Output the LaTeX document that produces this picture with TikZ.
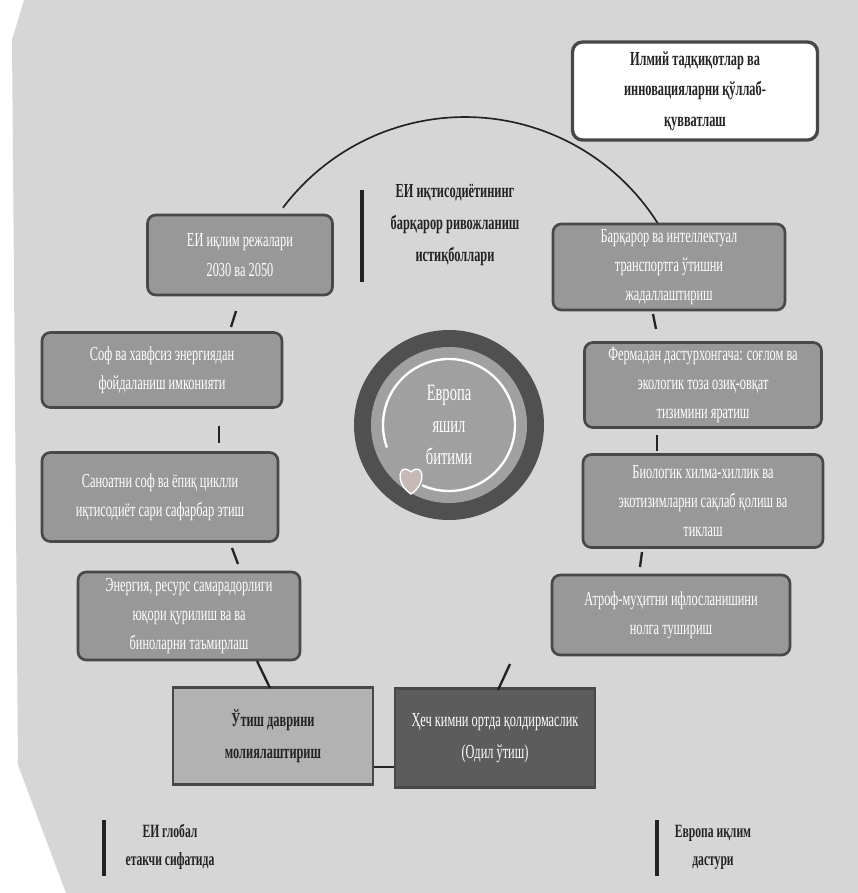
\documentclass[tikz,border=0pt]{standalone}
\usepackage{fontspec}
\setmainfont{Liberation Serif}[FakeStretch=0.62]
\usepackage{tikz}
\usetikzlibrary{positioning,calc}
\definecolor{pagegray}{RGB}{214,214,214}
\definecolor{boxgray}{RGB}{152,152,152}
\definecolor{edgegray}{RGB}{72,72,72}
\definecolor{lightbox}{RGB}{178,178,178}
\definecolor{darkbox}{RGB}{92,92,92}
\definecolor{ringdark}{RGB}{80,80,80}
\definecolor{diskgray}{RGB}{160,160,160}
\definecolor{textdark}{RGB}{35,35,35}
\definecolor{leafgray}{RGB}{200,185,185}

\begin{document}
\begin{tikzpicture}[x=0.3mm, y=-0.3mm, font=\fontsize{17}{25}\selectfont,
    goal/.style={draw=edgegray, line width=0.8mm, fill=boxgray, rounded corners=2.5mm, text=white, align=center},
    tilebox/.style={draw=edgegray, line width=0.8mm, align=center},
    wh/.style 2 args={minimum width=#1*0.3mm, minimum height=#2*0.3mm},
    tick/.style={line width=0.7mm, draw=textdark},
    caption/.style={font=\fontsize{16}{24}\selectfont\bfseries, text=textdark, align=center}]
        \useasboundingbox (0,0) rectangle (858,893);
        \fill[white] (0,0) rectangle (858,893);
        \fill[pagegray] (24,0) -- (858,0) -- (858,893) -- (66,893) -- (18,765) -- (12,40) -- cycle;

        % Arc over the top
        \draw[tick, line width=0.5mm] plot[domain=32:143, samples=60] ({465+228*cos(\x)}, {345-228*sin(\x)});

        % Title
        \coordinate (bar1a) at (362,190);
        \coordinate (bar1b) at (362,282);
        \draw[line width=1mm, draw=textdark] (bar1a) -- (bar1b);
        \node[caption, font=\fontsize{17}{27}\selectfont\bfseries] (title) at (455,225) {ЕИ иқтисодиётининг\\барқарор ривожланиш\\истиқболлари};

        % Green deal emblem
        \fill[ringdark] (449,425) circle[radius=28.5mm];
        \fill[diskgray] (449,425) circle[radius=23.4mm];
        \draw[white, line width=0.7mm] plot[domain=246:560, samples=80] ({449+66*cos(\x)}, {425-66*sin(\x)});
        \draw[white, fill=leafgray, line width=0.4mm] (411,472) .. controls (399,461) and (394,483) .. (411,494) .. controls (428,483) and (423,461) .. (411,472);
        \node[text=white, align=center, font=\fontsize{20}{27}\selectfont] (deal) at (449,425) {Европа\\яшил\\битими};

        % Research box
        \node[tilebox, fill=white, rounded corners=3mm, line width=1mm, wh={245}{98}, text=textdark, font=\fontsize{17}{26}\selectfont\bfseries] (research) at (695,91) {Илмий тадқиқотлар ва\\инновацияларни қўллаб-\\қувватлаш};

        % Left column
        \node[goal, wh={185}{80}] (plans) at (240,255) {ЕИ иқлим режалари\\2030 ва 2050};
        \node[goal, wh={240}{75}] (energy) at (162,370) {Соф ва хавфсиз энергиядан\\фойдаланиш имконияти};
        \node[goal, wh={236}{89}] (industry) at (160,497) {Саноатни соф ва ёпиқ циклли\\иқтисодиёт сари сафарбар этиш};
        \node[goal, wh={222}{88}] (building) at (189,616) {Энергия, ресурс самарадорлиги\\юқори қурилиш ва ва\\биноларни таъмирлаш};

        % Right column
        \node[goal, wh={232}{86}] (transport) at (669,267) {Барқарор ва интеллектуал\\транспортга ўтишни\\жадаллаштириш};
        \node[goal, wh={237}{85}] (farm) at (703,385) {Фермадан дастурхонгача: соғлом ва\\экологик тоза озиқ-овқат\\тизимини яратиш};
        \node[goal, wh={240}{93}] (nature) at (703,501) {Биологик хилма-хиллик ва\\экотизимларни сақлаб қолиш ва\\тиклаш};
        \node[goal, wh={238}{80}] (pollution) at (671,615) {Атроф-муҳитни ифлосланишини\\нолга тушириш};

        % Bottom pair
        \node[tilebox, fill=lightbox, wh={200}{97}, text=textdark, font=\fontsize{17}{27}\selectfont\bfseries] (finance) at (273,736) {Ўтиш даврини\\молиялаштириш};
        \node[tilebox, fill=darkbox, wh={200}{99}, text=white, font=\fontsize{17}{27}\selectfont] (justice) at (495,738) {Ҳеч кимни ортда қолдирмаслик\\(Одил ўтиш)};
        \draw[tick] ($(finance.east)+(0,31)$) -- ($(justice.west)+(0,29)$);

        % Ticks between boxes
        \coordinate (t1a) at (236,311);  \coordinate (t1b) at (231,327);
        \coordinate (t2a) at (219,426);  \coordinate (t2b) at (219,443);
        \coordinate (t3a) at (232,548);  \coordinate (t3b) at (238,564);
        \coordinate (t4a) at (257,661);  \coordinate (t4b) at (270,688);
        \coordinate (t5a) at (653,314);  \coordinate (t5b) at (656,329);
        \coordinate (t6a) at (657,435);  \coordinate (t6b) at (657,451);
        \coordinate (t7a) at (642,552);  \coordinate (t7b) at (640,567);
        \coordinate (t8a) at (510,664);  \coordinate (t8b) at (498,690);
        \foreach \t in {t1,t2,t3,t4,t5,t6,t7,t8}
            \draw[tick] (\t a) -- (\t b);

        % Bottom captions
        \coordinate (bar2a) at (104,820);  \coordinate (bar2b) at (104,876);
        \coordinate (bar3a) at (657,820);  \coordinate (bar3b) at (657,876);
        \draw[line width=1mm, draw=textdark] (bar2a) -- (bar2b);
        \draw[line width=1mm, draw=textdark] (bar3a) -- (bar3b);
        \node[caption] (leader) at (170,847) {ЕИ глобал\\етакчи сифатида};
        \node[caption] (pact) at (713,847) {Европа иқлим\\дастури};
    \end{tikzpicture}
\end{document}
